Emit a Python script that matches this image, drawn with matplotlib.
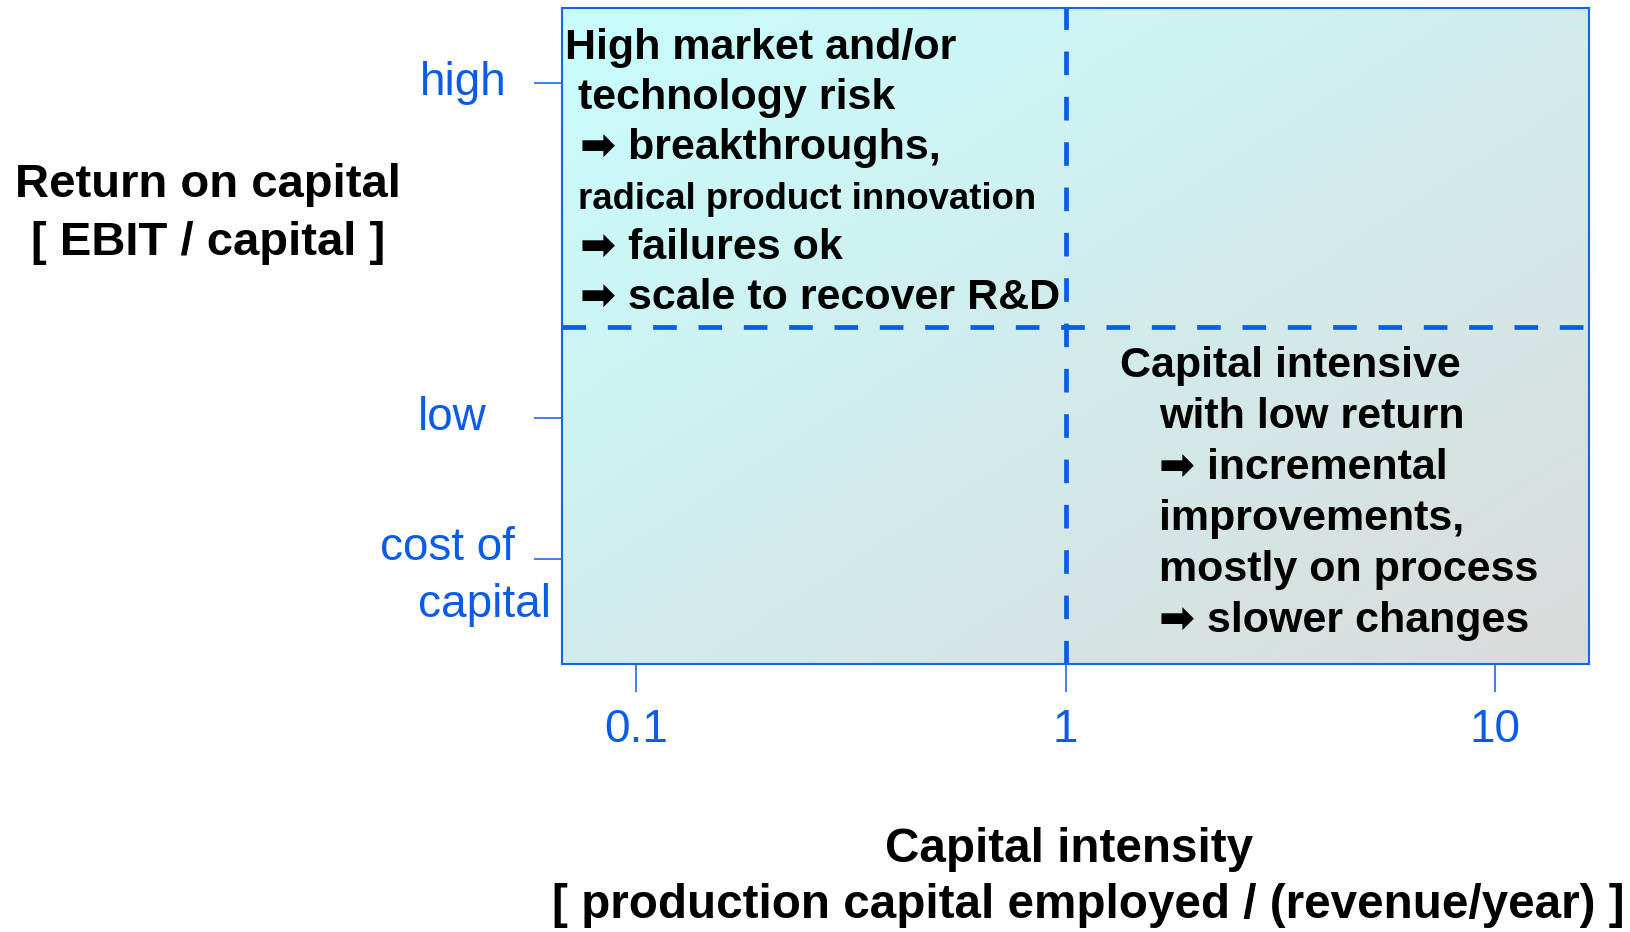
import numpy as np
import matplotlib
matplotlib.use("Agg")
import matplotlib.pyplot as plt
from matplotlib.colors import LinearSegmentedColormap
from matplotlib.transforms import offset_copy

plt.rcParams["font.family"] = ["Liberation Sans", "DejaVu Sans"]

# axis data
x_ticks = [0.1, 1, 10]
x_ticklabels = ["0.1", "1", "10"]
x_lim = (0.0673, 16.5)
x_split = 1

y_ticks = [0.16, 0.375, 0.885]
y_ticklabels = ["cost of\ncapital", "low", "high"]
y_lim = (0, 1)
y_split = 0.514

x_title = ["Capital intensity", "[ production capital employed / (revenue/year) ]"]
y_title = "Return on capital\n[ EBIT / capital ]"

ARROW = "\u27a1"

# quadrant notes: (text, size, indent)
top_left_lines = [
    ("High market and/or", 31, 0.003),
    ("technology risk", 31, 0.0156),
    (ARROW + " breakthroughs,", 31, 0.0176),
    ("radical product innovation", 26.3, 0.0156),
    (ARROW + " failures ok", 31, 0.0176),
    (ARROW + " scale to recover R&D", 31, 0.0176),
]
bottom_right_lines = [
    ("Capital intensive", 31, 0.543),
    ("with low return", 31, 0.581),
    (ARROW + " incremental", 31, 0.581),
    ("improvements,", 31, 0.581),
    ("mostly on process", 31, 0.581),
    (ARROW + " slower changes", 31, 0.581),
]

blue = "#0A5CE6"
edge_blue = "#1565E8"

fig = plt.figure(figsize=(16.31, 9.32), dpi=100)
ax = fig.add_axes([0.3446, 0.2876, 0.6296, 0.7039])
ax.set_xscale("log")
ax.set_xlim(*x_lim)
ax.set_ylim(*y_lim)

# diagonal gradient background
gx, gy = np.meshgrid(np.linspace(0, 1, 200), np.linspace(0, 1, 200))
grad = (gx + gy) / 2
cmap = LinearSegmentedColormap.from_list("bg", ["#C8FDFD", "#DBDBDB"])
ax.imshow(grad, cmap=cmap, extent=(0, 1, 0, 1), transform=ax.transAxes,
          aspect="auto", origin="upper", zorder=0)

# quadrant dividers
dash = (0, (5.0, 4.6))
ax.axvline(x_split, color=blue, lw=3.4, linestyle=dash, zorder=2)
ax.axhline(y_split, color=blue, lw=3.4, linestyle=dash, zorder=2)

for s in ax.spines.values():
    s.set_color(edge_blue)
    s.set_linewidth(1.5)

ax.set_xticks(x_ticks)
ax.set_xticklabels(x_ticklabels)
ax.xaxis.set_minor_locator(matplotlib.ticker.NullLocator())
ax.tick_params(axis="x", direction="out", length=20, width=1.1, color=blue,
               labelcolor=blue, labelsize=33, pad=12)
ax.set_yticks(y_ticks)
ax.set_yticklabels([])
ax.tick_params(axis="y", direction="out", length=20, width=1.1, color=blue)

# y tick labels, drawn by hand for their odd alignment
ax.text(-0.0536, y_ticks[2], y_ticklabels[2], transform=ax.get_yaxis_transform(),
        ha="right", va="center", fontsize=33, color=blue)
ax.text(-0.073, y_ticks[1], y_ticklabels[1], transform=ax.get_yaxis_transform(),
        ha="right", va="center", fontsize=33, color=blue)
cc1, cc2 = y_ticklabels[0].split("\n")
ax.text(-0.0458, y_ticks[0], cc1,
        transform=offset_copy(ax.get_yaxis_transform(), fig=fig, y=8, units="points"),
        ha="right", va="center", fontsize=33, color=blue)
ax.text(-0.0107, y_ticks[0], cc2,
        transform=offset_copy(ax.get_yaxis_transform(), fig=fig, y=-33, units="points"),
        ha="right", va="center", fontsize=33, color=blue)

# axis titles
fig.text(208 / 1631, 1 - 214 / 932, y_title, ha="center", va="center",
         fontsize=34, fontweight="bold", linespacing=1.4)
fig.text(1069 / 1631, 1 - 850 / 932, x_title[0], ha="center", va="center",
         fontsize=34.3, fontweight="bold")
fig.text(1088 / 1631, 1 - 906 / 932, x_title[1], ha="center", va="center",
         fontsize=34.3, fontweight="bold")

# quadrant notes, one line at a time
line_step = 50 / 656
for i, (txt, size, x0) in enumerate(top_left_lines):
    ax.text(x0, (664 - 59) / 656 - i * line_step, txt, transform=ax.transAxes,
            ha="left", va="baseline", fontsize=size, fontweight="bold", zorder=3)
line_step = 51 / 656
for i, (txt, size, x0) in enumerate(bottom_right_lines):
    ax.text(x0, (664 - 377) / 656 - i * line_step, txt, transform=ax.transAxes,
            ha="left", va="baseline", fontsize=size, fontweight="bold", zorder=3)

fig.savefig("out.png", dpi=100)
